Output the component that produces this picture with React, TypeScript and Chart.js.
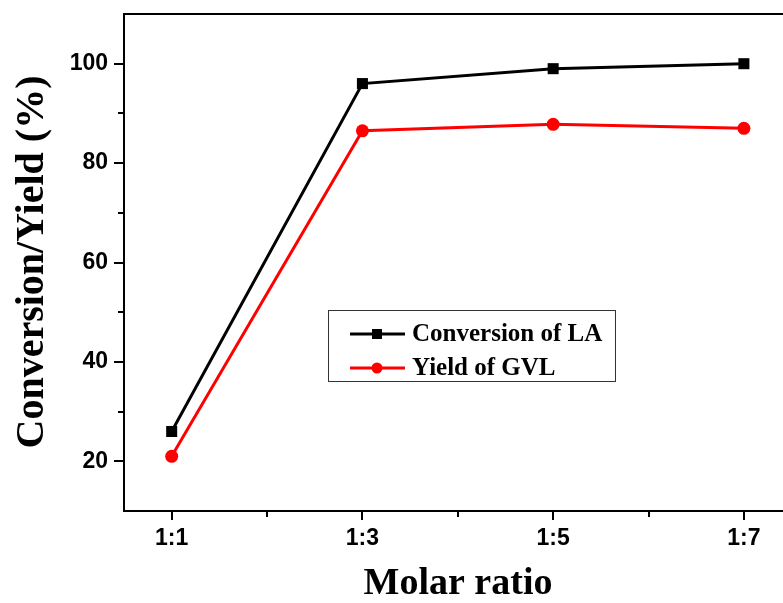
import React, { useEffect, useRef } from "react";
import { Chart, registerables } from "chart.js";

Chart.register(...registerables);

const categories = ["1:1", "1:3", "1:5", "1:7"];
const ratioValues = [1, 3, 5, 7];
const conversionLA = [26, 96, 99, 100];
const yieldGVL = [21, 86.5, 87.8, 87];
const yMajorTicks = [20, 40, 60, 80, 100];
const yMinorTicks = [30, 50, 70, 90];
const xMinorTicks = [2, 4, 6];

const overlay = {
  id: "overlay",
  afterDraw(chart: any) {
    const ctx = chart.ctx;
    const { left, right, top, bottom } = chart.chartArea;
    const xs = chart.scales.x;
    const ys = chart.scales.y;
    ctx.save();
    ctx.strokeStyle = "#000";
    ctx.lineWidth = 2;
    ctx.beginPath();
    ctx.moveTo(left - 1, top);
    ctx.lineTo(right, top);
    ctx.stroke();
    ctx.beginPath();
    yMajorTicks.forEach((v) => {
      const y = Math.round(ys.getPixelForValue(v));
      ctx.moveTo(left - 10, y);
      ctx.lineTo(left, y);
    });
    yMinorTicks.forEach((v) => {
      const y = Math.round(ys.getPixelForValue(v));
      ctx.moveTo(left - 6, y);
      ctx.lineTo(left, y);
    });
    ratioValues.forEach((v) => {
      const x = Math.round(xs.getPixelForValue(v));
      ctx.moveTo(x, bottom);
      ctx.lineTo(x, bottom + 9);
    });
    xMinorTicks.forEach((v) => {
      const x = Math.round(xs.getPixelForValue(v));
      ctx.moveTo(x, bottom);
      ctx.lineTo(x, bottom + 6);
    });
    ctx.stroke();

    // axis titles
    ctx.fillStyle = "#000";
    ctx.font = "bold 40px 'Liberation Serif'";
    ctx.textAlign = "center";
    ctx.textBaseline = "middle";
    ctx.save();
    ctx.translate(33, 262);
    ctx.rotate(-Math.PI / 2);
    ctx.fillText("Conversion/Yield (%)", 0, 0);
    ctx.restore();
    ctx.font = "bold 38px 'Liberation Serif'";
    ctx.fillText("Molar ratio", 458, 584);

    // legend
    const bx = 328, by = 310, bw = 287, bh = 71;
    ctx.lineWidth = 1;
    ctx.strokeStyle = "#333";
    ctx.strokeRect(bx + 0.5, by + 0.5, bw, bh);
    const rows = [
      { label: "Conversion of LA", color: "#000", shape: "rect", y: 334 },
      { label: "Yield of GVL", color: "#ff0000", shape: "circle", y: 368 },
    ];
    rows.forEach((r) => {
      ctx.strokeStyle = r.color;
      ctx.fillStyle = r.color;
      ctx.lineWidth = 3;
      ctx.beginPath();
      ctx.moveTo(350, r.y);
      ctx.lineTo(405, r.y);
      ctx.stroke();
      if (r.shape === "rect") {
        ctx.fillRect(372, r.y - 5, 10, 10);
      } else {
        ctx.beginPath();
        ctx.arc(377, r.y, 5.5, 0, Math.PI * 2);
        ctx.fill();
      }
      ctx.fillStyle = "#000";
      ctx.font = "bold 25px 'Liberation Serif'";
      ctx.textAlign = "left";
      ctx.textBaseline = "middle";
      ctx.fillText(r.label, 412, r.y + 1);
    });
    ctx.restore();
  },
};

export default function App() {
  const ref = useRef<HTMLCanvasElement>(null);
  useEffect(() => {
    if (!ref.current) return;
    const chart = new Chart(ref.current, {
      type: "line",
      data: {
        datasets: [
          {
            label: "Conversion of LA",
            data: ratioValues.map((x, i) => ({ x, y: conversionLA[i] })),
            borderColor: "#000",
            backgroundColor: "#000",
            borderWidth: 3,
            pointStyle: "rect",
            pointRadius: 7.8,
            pointBorderWidth: 0,
          },
          {
            label: "Yield of GVL",
            data: ratioValues.map((x, i) => ({ x, y: yieldGVL[i] })),
            borderColor: "#ff0000",
            backgroundColor: "#ff0000",
            borderWidth: 3,
            pointStyle: "circle",
            pointRadius: 6.5,
            pointBorderWidth: 0,
          },
        ],
      },
      options: {
        animation: false,
        responsive: false,
        layout: { autoPadding: false, padding: { top: 14, right: 0, left: 0, bottom: 0 } },
        plugins: { legend: { display: false }, tooltip: { enabled: false } },
        scales: {
          x: {
            type: "linear",
            min: 0.5,
            max: 7.41,
            afterBuildTicks: (s: any) => {
              s.ticks = ratioValues.map((v) => ({ value: v }));
            },
            afterFit: (s: any) => {
              s.height = 92;
              s.paddingLeft = 0;
              s.paddingRight = 0;
            },
            ticks: {
              callback: (v: any) => categories[ratioValues.indexOf(v)] ?? "",
              font: { family: "'Liberation Sans'", size: 23, weight: "bold" },
              color: "#000",
              padding: 14,
              maxRotation: 0,
            },
            grid: { display: true, drawOnChartArea: false, drawTicks: false },
            border: { display: true, color: "#000", width: 2 },
          },
          y: {
            min: 10,
            max: 110,
            afterBuildTicks: (s: any) => {
              s.ticks = yMajorTicks.map((v) => ({ value: v }));
            },
            afterFit: (s: any) => {
              s.width = 124;
              s.paddingTop = 0;
              s.paddingBottom = 0;
            },
            ticks: {
              font: { family: "'Liberation Sans'", size: 23, weight: "bold" },
              color: "#000",
              padding: 16,
            },
            grid: { display: true, drawOnChartArea: false, drawTicks: false },
            border: { display: true, color: "#000", width: 2 },
          },
        },
      },
      plugins: [overlay],
    });
    return () => chart.destroy();
  }, []);
  return (
    <div style={{ position: "fixed", left: 0, top: 0, width: 783, height: 603, background: "#fff" }}>
      <canvas ref={ref} width={783} height={603} style={{ display: "block" }} />
    </div>
  );
}
